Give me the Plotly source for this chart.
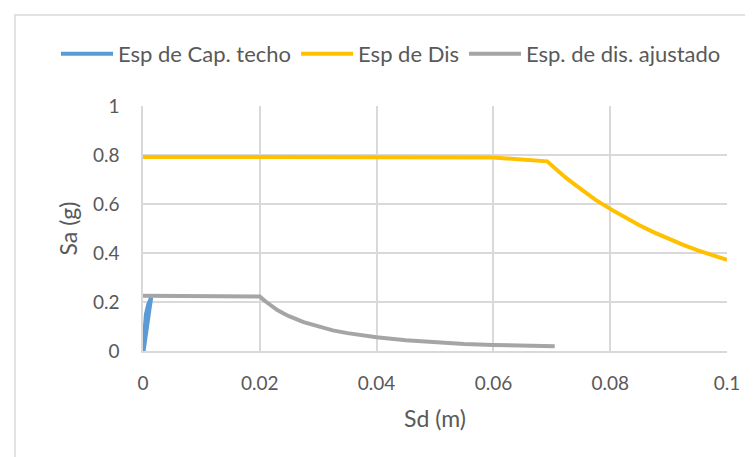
import plotly.graph_objects as go

# Esp de Cap. techo (capacity curve, roof)
cap_sd = [0.0, 0.0002, 0.0005, 0.0009, 0.0014, 0.0011, 0.0007, 0.0003, 0.0001]
cap_sa = [0.0, 0.08, 0.15, 0.19, 0.218, 0.17, 0.10, 0.04, 0.0]

# Esp de Dis (design spectrum)
dis_sd = [0.0, 0.01, 0.02, 0.03, 0.04, 0.05, 0.06, 0.0692, 0.0705, 0.072, 0.0735, 0.075,
          0.0775, 0.08, 0.0825, 0.085, 0.0875, 0.09, 0.0925, 0.095, 0.0975, 0.1]
dis_sa = [0.792, 0.792, 0.792, 0.792, 0.792, 0.792, 0.79, 0.774, 0.745, 0.715, 0.687, 0.659,
          0.617, 0.58, 0.545, 0.513, 0.484, 0.458, 0.433, 0.411, 0.391, 0.372]

# Esp. de dis. ajustado (adjusted design spectrum)
adj_sd = [0.0, 0.005, 0.01, 0.015, 0.017, 0.0185, 0.02, 0.021, 0.022, 0.023, 0.024, 0.025,
          0.0275, 0.03, 0.0325, 0.035, 0.0375, 0.04, 0.045, 0.05, 0.055, 0.06, 0.065, 0.0705]
adj_sa = [0.226, 0.226, 0.226, 0.226, 0.225, 0.224, 0.222, 0.202, 0.184, 0.167, 0.154, 0.142,
          0.118, 0.099, 0.084, 0.073, 0.063, 0.056, 0.044, 0.036, 0.029, 0.025, 0.021, 0.019]

x_ticks = [0, 0.02, 0.04, 0.06, 0.08, 0.1]
y_ticks = [0, 0.2, 0.4, 0.6, 0.8, 1]

FONT = "Lato"
TXT = "#595959"
GRID = "#d9d9d9"

fig = go.Figure()
fig.add_trace(go.Scatter(x=cap_sd, y=cap_sa, mode="lines", name="Esp de Cap. techo",
                         line=dict(color="#5B9BD5", width=4)))
fig.add_trace(go.Scatter(x=dis_sd, y=dis_sa, mode="lines", name="Esp de Dis",
                         line=dict(color="#FFC000", width=4)))
fig.add_trace(go.Scatter(x=adj_sd, y=adj_sa, mode="lines", name="Esp. de dis. ajustado",
                         line=dict(color="#A5A5A5", width=4)))

PL, PW, PB, PH = 135, 584, 343, 245  # plot area left, width, bottom, height (px)

fig.update_layout(
    width=753, height=457,
    margin=dict(l=135, r=34, t=98, b=114),
    paper_bgcolor="white", plot_bgcolor="white",
    font=dict(family=FONT, color=TXT, size=19),
    showlegend=True,
    legend=dict(orientation="h", x=(48 - PL) / PW, xanchor="left",
                y=(PB - 46) / PH, yanchor="middle",
                font=dict(family=FONT, size=22, color=TXT), itemwidth=52,
                bgcolor="rgba(0,0,0,0)"),
    xaxis=dict(range=[0, 0.1], tickvals=x_ticks, ticktext=[str(v) for v in x_ticks],
               showgrid=True, gridcolor=GRID, gridwidth=1.5, zeroline=False,
               showline=True, linecolor=GRID, linewidth=1.5, ticks="",
               ticklabelstandoff=14,
               title=dict(text="Sd (m)", font=dict(family=FONT, size=23, color=TXT), standoff=18)),
    yaxis=dict(range=[0, 1], tickvals=y_ticks, ticktext=[str(v) for v in y_ticks],
               showgrid=True, gridcolor=GRID, gridwidth=1.5, zeroline=False,
               showline=True, linecolor=GRID, linewidth=1.5, ticks="",
               ticklabelstandoff=18,
               title=dict(text="Sa (g)", font=dict(family=FONT, size=23, color=TXT), standoff=9)),
    shapes=[dict(type="rect", xref="paper", yref="paper",
                 x0=(7 - PL) / PW, x1=1.2, y0=-0.6, y1=(PB - 7) / PH,
                 line=dict(color=GRID, width=1.5), fillcolor="rgba(0,0,0,0)", layer="below")],
)

fig.write_html("out.html")
